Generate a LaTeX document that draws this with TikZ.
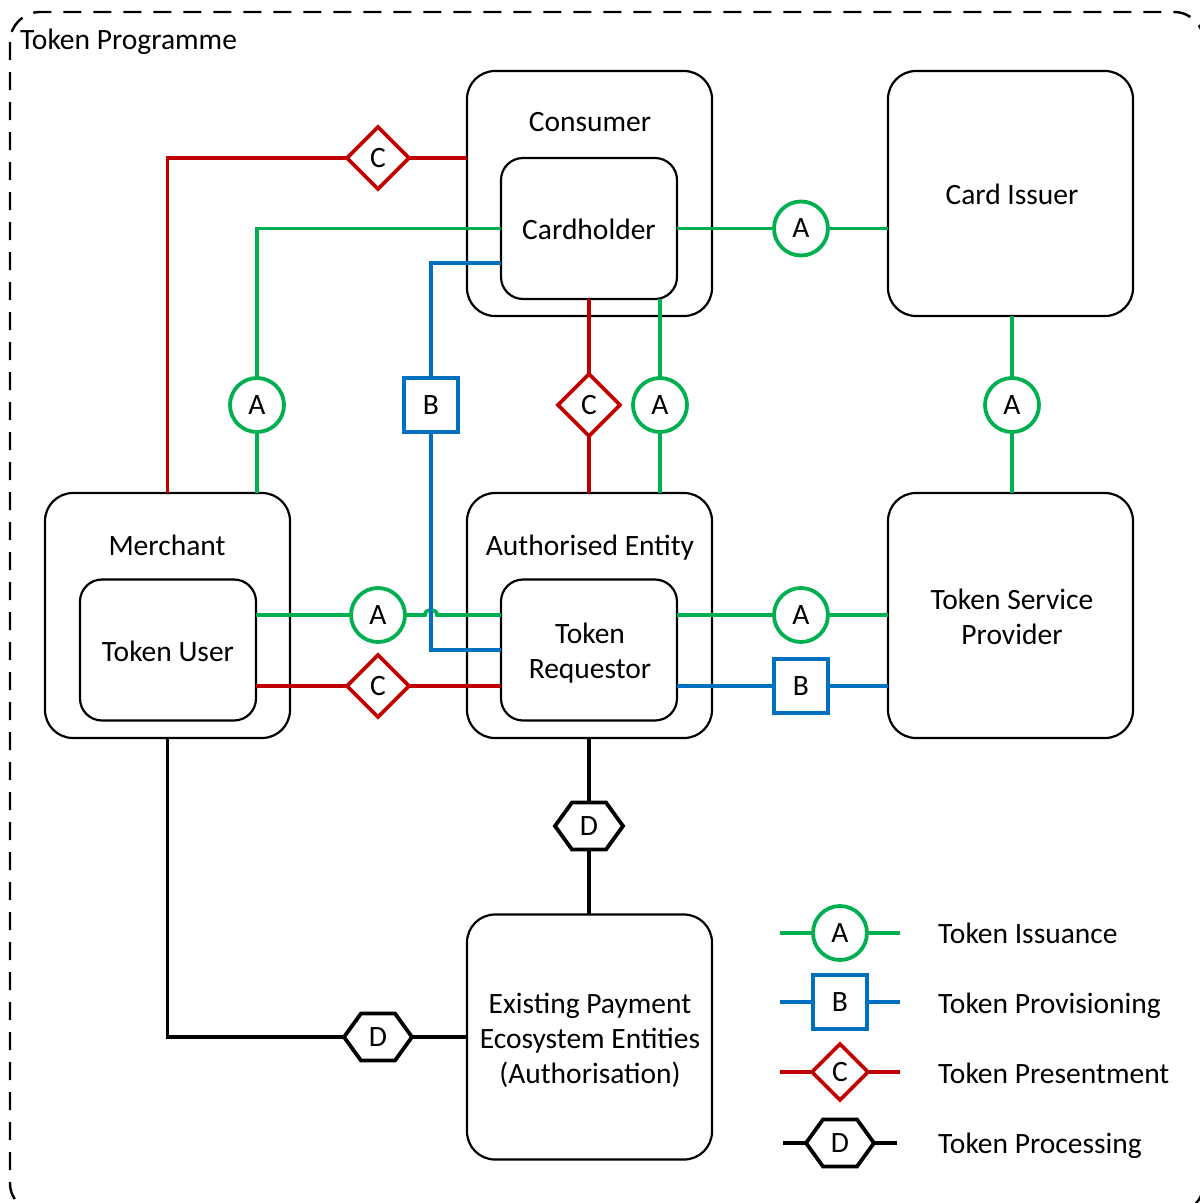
\documentclass[tikz,border=0pt]{standalone}
\usepackage{fontspec}
\setmainfont{Carlito}
\usetikzlibrary{shapes.geometric,calc}
\definecolor{issgreen}{HTML}{00B050}
\definecolor{provblue}{HTML}{0070C0}
\definecolor{presred}{HTML}{C00000}

% hexagonal marker drawn round a D node
\newcommand{\hexmark}[1]{%
  \draw[procline, line join=miter] (#1.west) -- ++(17,-23.5) -- ++(34,0)
    -- ++(17,23.5) -- ++(-17,23.5) -- ++(-34,0) -- cycle;}

\begin{document}
\begin{tikzpicture}[x=1pt, y=-1pt,
  font=\fontsize{29.5}{35}\selectfont,
  party/.style={draw, line width=2.2pt, rounded corners=28pt,
    minimum width=245pt, minimum height=245pt, inner sep=0pt, outer sep=0pt, align=center},
  role/.style={draw, line width=2.2pt, rounded corners=22pt,
    minimum width=176pt, minimum height=141pt, inner sep=0pt, outer sep=0pt, align=center},
  boxtext/.style={align=center, inner sep=0pt},
  conn/.style={line width=3.8pt},
  iss/.style={conn, draw=issgreen},
  prov/.style={conn, draw=provblue},
  pres/.style={conn, draw=presred},
  procline/.style={conn, draw=black},
  markA/.style={circle, draw=issgreen, line width=3.8pt, fill=white,
    minimum size=54pt, inner sep=0pt, outer sep=0pt},
  markB/.style={rectangle, draw=provblue, line width=3.8pt, fill=white,
    minimum size=54pt, inner sep=0pt, outer sep=0pt},
  markC/.style={diamond, draw=presred, line width=3.8pt, fill=white,
    minimum width=62pt, minimum height=62pt, inner sep=0pt, outer sep=0pt},
  markD/.style={rectangle, minimum width=68pt, minimum height=47pt,
    inner sep=0pt, outer sep=0pt},
  caption/.style={anchor=base, inner sep=0pt},
  legtext/.style={anchor=base west, inner sep=0pt}]

\useasboundingbox (0,0) rectangle (1200,1203);

% programme frame
\draw[line width=2.4pt, dash pattern=on 18pt off 12pt, rounded corners=30pt]
  (10,12) rectangle (1204,1213);
\node[anchor=base west, inner sep=0pt] (title) at (20,49) {Token Programme};

% parties and roles
\node[party] (con) at (589.5,193.5) {};
\node[caption] (conL) at (590,131) {Consumer};
\node[role] (ch) at (589,228.5) {};
\node[caption] (chL) at (589,239) {Cardholder};

\node[party] (ci) at (1010.5,193.5) {};
\node[caption] (ciL) at (1012,204) {Card Issuer};

\node[party] (mer) at (167.5,615.5) {};
\node[caption] (merL) at (167,555) {Merchant};
\node[role] (tu) at (168,650) {};
\node[caption] (tuL) at (168,661) {Token User};

\node[party] (ae) at (589.5,615.5) {};
\node[caption] (aeL) at (590,555) {Authorised Entity};
\node[role] (tr) at (589,650) {};
\node[boxtext] (trL) at (590,653) {Token\\Requestor};

\node[party] (tsp) at (1010.5,615.5) {};
\node[boxtext] (tspL) at (1012,617) {Token Service\\Provider};

\node[party] (epe) at (589.5,1037) {};
\node[boxtext] (epeL) at (590,1040) {Existing Payment\\Ecosystem Entities\\(Authorisation)};

% markers
\node[markC] (cTop) at (378,158) {C};
\node[markA] (aL) at (257,405) {A};
\node[markB] (bL) at (431,405) {B};
\node[markC] (cM) at (589,405) {C};
\node[markA] (aM) at (660,405) {A};
\node[markA] (aCI) at (801,228.5) {A};
\node[markA] (aCT) at (1012,405) {A};
\node[markA] (aTU) at (378,615) {A};
\node[markC] (cTU) at (378,686) {C};
\node[markA] (aTR) at (801,615) {A};
\node[markB] (bTR) at (801,686) {B};
\node[markD] (dAE) at (589,826) {D};
\node[markD] (dM) at (378,1037) {D};
\hexmark{dAE}
\hexmark{dM}

% token presentment
\draw[pres] (mer.north) |- (cTop.west);
\draw[pres] (cTop.east) -- (con.west |- cTop);
\draw[pres] (ch.south -| cM) -- (cM.north);
\draw[pres] (cM.south) -- (ae.north -| cM);
\draw[pres] (tu.east |- cTU) -- (cTU.west);
\draw[pres] (cTU.east) -- (tr.west |- cTU);

% token issuance
\draw[iss] (mer.north -| aL) -- (aL.south);
\draw[iss] (aL.north) |- (ch.west);
\draw[iss] (ch.south -| aM) -- (aM.north);
\draw[iss] (aM.south) -- (ae.north -| aM);
\draw[iss] (ch.east) -- (aCI.west);
\draw[iss] (aCI.east) -- (ci.west |- aCI);
\draw[iss] (ci.south -| aCT) -- (aCT.north);
\draw[iss] (aCT.south) -- (tsp.north -| aCT);
\draw[iss] (tu.east |- aTU) -- (aTU.west);
\draw[iss] (aTU.east) -- ($(aTU.east -| bL)+(-6,0)$)
  .. controls +(0,-7) and +(0,-7) .. ++(12,0) -- (tr.west |- aTU);
\draw[iss] (tr.east |- aTR) -- (aTR.west);
\draw[iss] (aTR.east) -- (tsp.west |- aTR);

% token provisioning
\coordinate (chB) at ($(ch.west)+(0,34.5)$);
\draw[prov] (chB) -| (bL.north);
\draw[prov] (bL.south) |- (tr.west);
\draw[prov] (tr.east |- bTR) -- (bTR.west);
\draw[prov] (bTR.east) -- (tsp.west |- bTR);

% token processing
\draw[procline] (ae.south -| dAE) -- (dAE.north);
\draw[procline] (dAE.south) -- (epe.north -| dAE);
\draw[procline] (mer.south) |- (dM.west);
\draw[procline] (dM.east) -- (epe.west |- dM);

% legend
\node[markA] (lgA) at (840,933) {A};
\coordinate (lgAl) at (780,933);
\coordinate (lgAr) at (900,933);
\draw[iss] (lgAl) -- (lgA.west);
\draw[iss] (lgA.east) -- (lgAr);
\node[legtext] (lgAt) at (938,943) {Token Issuance};

\node[markB] (lgB) at (840,1002) {B};
\coordinate (lgBl) at (780,1002);
\coordinate (lgBr) at (900,1002);
\draw[prov] (lgBl) -- (lgB.west);
\draw[prov] (lgB.east) -- (lgBr);
\node[legtext] (lgBt) at (938,1013) {Token Provisioning};

\node[markC, minimum width=56pt, minimum height=56pt] (lgC) at (840,1072) {C};
\coordinate (lgCl) at (780,1072);
\coordinate (lgCr) at (900,1072);
\draw[pres] (lgCl) -- (lgC.west);
\draw[pres] (lgC.east) -- (lgCr);
\node[legtext] (lgCt) at (938,1083) {Token Presentment};

\node[markD] (lgD) at (840,1143) {D};
\hexmark{lgD}
\coordinate (lgDl) at (783,1143);
\coordinate (lgDr) at (897,1143);
\draw[procline] (lgDl) -- (lgD.west);
\draw[procline] (lgD.east) -- (lgDr);
\node[legtext] (lgDt) at (938,1153) {Token Processing};
\end{tikzpicture}
\end{document}
